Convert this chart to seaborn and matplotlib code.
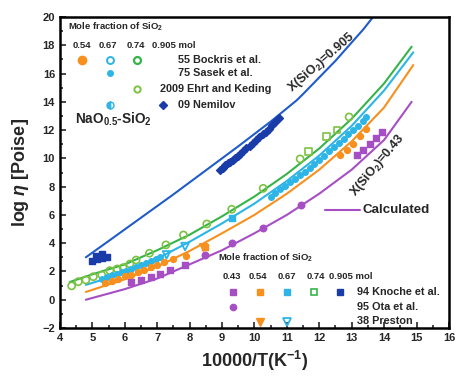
import numpy as np
import pandas as pd
import matplotlib
matplotlib.use("Agg")
import matplotlib.pyplot as plt
import seaborn as sns

# ── calculated curves ────────────────────────────────────────────────────────
x_905 = [4.8, 5.5, 6.5, 7.5, 8.0, 8.5, 9.5, 10.5, 11.3, 11.5, 12.5, 13.0, 13.35, 13.66]
y_905 = [3.0, 4.15, 5.8, 7.45, 8.3, 9.15, 10.85, 12.6, 14.1, 14.55, 16.9, 18.2, 19.1, 20.0]

x_74 = [4.3, 5.0, 6.0, 7.0, 8.0, 9.0, 10.0, 11.0, 12.0, 13.0, 14.0, 14.85]
y_74 = [1.25, 1.8, 2.5, 3.5, 4.6, 5.9, 7.3, 8.9, 10.7, 12.8, 15.3, 17.9]

x_67 = [4.8, 6.0, 7.0, 8.0, 9.0, 10.0, 11.0, 12.0, 13.0, 14.0, 14.9]
y_67 = [1.05, 1.9, 2.9, 4.1, 5.4, 6.8, 8.4, 10.2, 12.3, 14.8, 17.5]

x_54 = [4.8, 6.0, 7.0, 8.0, 9.0, 10.0, 11.0, 12.0, 13.0, 14.0, 14.9]
y_54 = [0.55, 1.45, 2.35, 3.45, 4.7, 6.0, 7.5, 9.2, 11.2, 13.6, 16.6]

x_43 = [4.8, 6.0, 7.0, 8.0, 9.0, 10.0, 11.0, 12.0, 13.0, 14.0, 14.85]
y_43 = [0.0, 0.75, 1.5, 2.5, 3.5, 4.7, 6.0, 7.5, 9.2, 11.3, 14.0]

# ── measured points ──────────────────────────────────────────────────────────
ehrt_x = [4.36, 4.57, 4.80, 5.03, 5.29, 5.54, 5.77, 5.95, 6.16, 6.35, 6.76, 7.27,
          7.81, 8.53, 9.30, 10.27, 11.41, 12.92]
ehrt_y = [0.98, 1.28, 1.40, 1.63, 1.75, 2.06, 2.18, 2.27, 2.53, 2.81, 3.29, 3.88,
          4.58, 5.36, 6.40, 7.88, 9.96, 12.93]

bockris67_x = [5.3, 5.45, 5.6, 5.75, 5.9, 6.05, 6.2, 6.35, 6.5, 6.65, 6.8, 6.95, 7.1]
bockris67_y = [1.5, 1.6, 1.75, 1.85, 1.95, 2.05, 2.2, 2.3, 2.45, 2.6, 2.75, 2.9, 3.05]

sasek_x = [10.5, 10.65, 10.8, 10.95, 11.1, 11.25, 11.4, 11.55, 11.7, 11.85, 12.0,
           12.15, 12.3, 12.45, 12.6, 12.75, 12.9, 13.05, 13.2, 13.35, 13.45]
sasek_y = [7.3, 7.55, 7.8, 8.05, 8.3, 8.55, 8.8, 9.05, 9.3, 9.6, 9.9,
           10.2, 10.5, 10.8, 11.1, 11.4, 11.7, 12.0, 12.3, 12.65, 12.95]

bockris54_x = [5.4, 5.6, 5.8, 6.0, 6.2, 6.4, 6.6, 6.8, 7.0, 7.2, 7.5, 7.9,
               12.64, 12.85, 13.05, 13.25, 13.45]
bockris54_y = [1.2, 1.35, 1.5, 1.65, 1.75, 1.95, 2.1, 2.3, 2.45, 2.65, 2.9, 3.1,
               10.24, 10.6, 11.0, 11.55, 12.1]

knoche43_x = [6.2, 6.5, 6.8, 7.1, 7.4, 7.85, 13.15, 13.35, 13.55, 13.75, 13.95]
knoche43_y = [1.25, 1.4, 1.6, 1.85, 2.1, 2.45, 10.24, 10.6, 11.0, 11.45, 11.9]

ota43_x = [8.48, 9.30, 10.27, 11.43]
ota43_y = [3.17, 4.0, 5.1, 6.7]

knoche54_x = [8.48]
knoche54_y = [3.76]

knoche67_x = [9.30]
knoche67_y = [5.76]

knoche74_x = [11.66, 12.23, 12.55]
knoche74_y = [10.47, 11.56, 12.0]

knoche905_x = [5.0, 5.15, 5.3, 5.45, 5.1, 5.3]
knoche905_y = [2.75, 2.85, 2.95, 3.05, 3.1, 3.2]

preston54_x = [8.41]
preston54_y = [3.76]

preston67_x = [7.29, 7.86]
preston67_y = [3.17, 3.76]

nemilov_x = [8.95, 9.02, 9.1, 9.18, 9.25, 9.33, 9.4, 9.48, 9.55, 9.65, 9.75, 9.85,
             9.95, 10.05, 10.15, 10.25, 10.35, 10.45, 10.55, 10.65, 10.75]
nemilov_y = [9.2, 9.35, 9.5, 9.65, 9.75, 9.9, 10.05, 10.2, 10.3, 10.5, 10.7, 10.9,
             11.1, 11.3, 11.5, 11.7, 11.9, 12.1, 12.35, 12.6, 12.85]

PURPLE = "#a64fc4"
ORANGE = "#f7901e"
CYAN = "#2cb5e6"
GREEN = "#36b44a"
LGREEN = "#7cc242"
BLUE = "#1f5cc8"
DBLUE = "#1a3ca8"

sns.set_theme(style="ticks")
plt.rcParams["font.family"] = ["Liberation Sans", "DejaVu Sans"]
plt.rcParams["font.weight"] = "bold"
plt.rcParams["mathtext.fontset"] = "custom"
plt.rcParams["mathtext.rm"] = "Liberation Sans:bold"
plt.rcParams["mathtext.bf"] = "Liberation Sans:bold"
plt.rcParams["mathtext.it"] = "Liberation Sans:italic:bold"

fig = plt.figure(figsize=(4.61, 3.83), dpi=100)
ax = fig.add_axes([0.130, 0.1436, 0.8438, 0.812])

# curves
for cx, cy, col in [(x_905, y_905, BLUE), (x_74, y_74, GREEN), (x_67, y_67, CYAN),
                    (x_54, y_54, ORANGE), (x_43, y_43, PURPLE)]:
    sns.lineplot(x=cx, y=cy, color=col, lw=1.5, sort=False, estimator=None, ax=ax)

def pts(xs, ys, marker, col, size=22, filled=True, lw=1.0):
    if filled:
        sns.scatterplot(x=xs, y=ys, marker=marker, color=col, s=size,
                        edgecolor=col, linewidth=lw, ax=ax, zorder=3)
    else:
        sns.scatterplot(x=xs, y=ys, marker=marker, s=size, facecolor="none",
                        edgecolor=col, linewidth=lw, ax=ax, zorder=3)

pts(ehrt_x, ehrt_y, "o", LGREEN, size=26, filled=False, lw=1.2)
pts(knoche74_x, knoche74_y, "s", LGREEN, size=24, filled=False, lw=1.2)
pts(bockris67_x, bockris67_y, "o", CYAN, size=16)
pts(sasek_x, sasek_y, "o", CYAN, size=16)
pts(knoche67_x, knoche67_y, "s", CYAN, size=18)
pts(preston67_x, preston67_y, "v", CYAN, size=30, filled=False, lw=1.3)
pts(bockris54_x, bockris54_y, "o", ORANGE, size=18)
pts(knoche54_x, knoche54_y, "s", ORANGE, size=18)
pts(preston54_x, preston54_y, "v", ORANGE, size=30)
pts(knoche43_x, knoche43_y, "s", PURPLE, size=16)
pts(ota43_x, ota43_y, "o", PURPLE, size=22)
pts(knoche905_x, knoche905_y, "s", DBLUE, size=20)
pts(nemilov_x, nemilov_y, "D", DBLUE, size=16)

ax.set_xlim(4, 16)
ax.set_ylim(-2, 20)
ax.set_xticks(np.arange(4, 17, 1))
ax.set_xticks(np.arange(4, 16.01, 0.5), minor=True)
ax.set_yticks(np.arange(-2, 21, 2))
ax.set_yticks(np.arange(-2, 20.01, 1), minor=True)
ax.tick_params(which="both", direction="in", width=1.2, labelsize=8)
ax.tick_params(which="major", length=4)
ax.tick_params(which="minor", length=2)
for s in ax.spines.values():
    s.set_linewidth(1.8)
    s.set_color("black")
ax.set_xlabel(r"10000/T(K$^{-1}$)", fontsize=13, fontweight="bold", labelpad=4)
ax.set_ylabel(r"log $\eta$ [Poise]", fontsize=13, fontweight="bold", labelpad=8)

T = ax.transAxes
fs = 7.8
fs_small = 6.8

def mk(axx, axy, marker, col, size=5, filled=True, lw=1.0):
    ax.plot([axx], [axy], marker=marker, ms=size, color=col,
            mfc=col if filled else "none", mew=lw, transform=T, clip_on=False,
            linestyle="none", zorder=4)

# upper legend block
ax.text(0.021, 0.968, r"Mole fraction of SiO$_2$", fontsize=fs_small, transform=T, va="center")
for xx, lab in [(0.057, "0.54"), (0.124, "0.67"), (0.195, "0.74")]:
    ax.text(xx, 0.907, lab, fontsize=fs_small, transform=T, va="center", ha="center")
ax.text(0.237, 0.907, "0.905 mol", fontsize=fs_small, transform=T, va="center")
mk(0.057, 0.862, "o", ORANGE, 6)
mk(0.129, 0.862, "o", CYAN, 5, filled=False, lw=1.4)
mk(0.198, 0.862, "o", GREEN, 5, filled=False, lw=1.6)
ax.text(0.303, 0.862, "55 Bockris et al.", fontsize=fs, transform=T, va="center")
mk(0.129, 0.820, "o", CYAN, 4)
ax.text(0.303, 0.820, "75 Sasek et al.", fontsize=fs, transform=T, va="center")
mk(0.198, 0.768, "o", LGREEN, 4.5, filled=False, lw=1.4)
ax.text(0.257, 0.768, "2009 Ehrt and Keding", fontsize=fs, transform=T, va="center")
ax.plot([0.129], [0.717], marker="o", ms=5, color=CYAN, fillstyle="left",
        transform=T, clip_on=False, linestyle="none")
mk(0.265, 0.717, "D", DBLUE, 4.5)
ax.text(0.303, 0.717, "09 Nemilov", fontsize=fs, transform=T, va="center")
ax.text(0.038, 0.672, r"NaO$_{0.5}$-SiO$_2$", fontsize=9.8, transform=T, va="center")

# lower legend block
ax.text(0.406, 0.225, r"Mole fraction of SiO$_2$", fontsize=fs_small, transform=T, va="center")
for xx, lab in [(0.442, "0.43"), (0.509, "0.54"), (0.583, "0.67"), (0.658, "0.74")]:
    ax.text(xx, 0.164, lab, fontsize=fs_small, transform=T, va="center", ha="center")
ax.text(0.692, 0.164, "0.905 mol", fontsize=fs_small, transform=T, va="center")
mk(0.445, 0.116, "s", PURPLE, 4)
mk(0.514, 0.116, "s", ORANGE, 4)
mk(0.584, 0.116, "s", CYAN, 4)
mk(0.653, 0.116, "s", GREEN, 4, filled=False, lw=1.2)
mk(0.720, 0.116, "s", DBLUE, 4)
ax.text(0.764, 0.116, "94 Knoche et al.", fontsize=fs, transform=T, va="center")
mk(0.445, 0.068, "o", PURPLE, 4.5)
ax.text(0.764, 0.068, "95 Ota et al.", fontsize=fs, transform=T, va="center")
mk(0.514, 0.018, "v", ORANGE, 5.5)
mk(0.584, 0.018, "v", CYAN, 5.5, filled=False, lw=1.3)
ax.text(0.764, 0.024, "38 Preston", fontsize=fs, transform=T, va="center")

# calculated key and labels
ax.plot([0.681, 0.771], [0.379, 0.379], color=PURPLE, lw=1.5, transform=T)
ax.text(0.779, 0.379, "Calculated", fontsize=9.6, transform=T, va="center")
ax.text(0.671, 0.855, r"X(SiO$_2$)=0.905", fontsize=9, transform=T,
        rotation=41, ha="center", va="center")
ax.text(0.817, 0.524, r"X(SiO$_2$)=0.43", fontsize=9, transform=T,
        rotation=50, ha="center", va="center")

fig.savefig("out.png", dpi=100)
